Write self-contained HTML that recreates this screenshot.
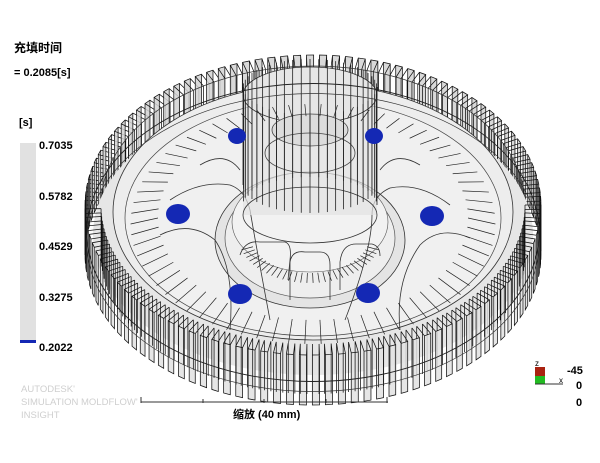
<!DOCTYPE html>
<html><head><meta charset="utf-8"><style>
body{margin:0;background:#fff;width:600px;height:463px;overflow:hidden;font-family:"Liberation Sans","Noto Sans CJK SC",sans-serif}
svg{position:absolute;left:0;top:0}
</style></head><body>
<svg id="s" width="600" height="463" viewBox="0 0 600 463" xmlns="http://www.w3.org/2000/svg">
<g id="back"></g>
<ellipse cx="313" cy="235" rx="220" ry="140" fill="#e6e6e6" stroke="none"/>
<ellipse cx="313" cy="212" rx="200" ry="128" fill="#ededed" stroke="#333" stroke-width="0.8"/>
<ellipse cx="313" cy="218" rx="188" ry="118" fill="#f0f0f0" stroke="#444" stroke-width="0.7"/>
<ellipse cx="310" cy="240" rx="95" ry="68" fill="#e4e4e4" stroke="#333" stroke-width="0.8"/>
<ellipse cx="310" cy="238" rx="85" ry="60" fill="#eeeeee" stroke="#555" stroke-width="0.7"/>
<ellipse cx="310" cy="222" rx="78" ry="50" fill="#f2f2f2" stroke="#555" stroke-width="0.6"/>
<g fill="none" stroke="#333" stroke-width="0.8">
<path d="M240 255 Q245 240 260 242 L285 242 Q292 244 290 260 L288 280"/>
<path d="M290 300 L290 262 Q292 250 305 252 L320 252 Q330 252 330 265 L330 300"/>
<path d="M340 290 L340 262 Q342 244 356 244 L372 244 Q380 246 380 256"/>
<path d="M170 200 Q200 180 230 185 Q245 190 250 210 Q255 240 270 320"/>
<path d="M450 205 Q420 182 390 188 Q372 196 372 215 Q372 250 345 320"/>
<path d="M160 235 Q190 220 215 240 Q235 270 230 330"/>
<path d="M470 238 Q440 225 420 245 Q395 280 400 330"/>
<path d="M200 165 Q225 150 240 170"/><path d="M420 165 Q395 150 380 170"/>
</g>
<rect x="243" y="95" width="134" height="120" fill="#e2e2e2" opacity="0.7"/>
<ellipse cx="310" cy="95" rx="67" ry="28" fill="#e6e6e6" stroke="#333" stroke-width="0.8"/>
<ellipse cx="310" cy="215" rx="67" ry="28" fill="none" stroke="#333" stroke-width="0.8"/>
<ellipse cx="310" cy="130" rx="38" ry="16" fill="#dcdcdc" stroke="#444" stroke-width="0.8"/>
<ellipse cx="310" cy="153" rx="45" ry="20" fill="none" stroke="#444" stroke-width="0.8"/>
<g id="hub" stroke="#222" stroke-width="0.8"></g>
<g id="ribs" stroke="#222" stroke-width="0.7" fill="none"></g>
<g fill="#1428b4">
<ellipse cx="178" cy="214" rx="12" ry="10"/><ellipse cx="432" cy="216" rx="12" ry="10"/>
<ellipse cx="240" cy="294" rx="12" ry="10"/><ellipse cx="368" cy="293" rx="12" ry="10"/>
<ellipse cx="237" cy="136" rx="9" ry="8"/><ellipse cx="374" cy="136" rx="9" ry="8"/>
</g>
<g id="front"></g>
<text x="14" y="52" font-size="12" font-weight="bold" fill="#000">充填时间</text>
<text x="14" y="76" font-size="11" font-weight="bold" fill="#000">= 0.2085[s]</text>
<text x="19" y="126" font-size="11" font-weight="bold" fill="#000">[s]</text>
<rect x="20" y="143" width="16" height="200" fill="#e1e1e1"/>
<rect x="20" y="340" width="16" height="3" fill="#1428b4"/>
<g font-size="11" font-weight="bold" fill="#000">
<text x="39" y="149">0.7035</text><text x="39" y="200">0.5782</text>
<text x="39" y="250">0.4529</text><text x="39" y="301">0.3275</text>
<text x="39" y="351">0.2022</text>
</g>
<g font-size="9.5" fill="#cfcfcf">
<text x="21" y="392">AUTODESK'</text><text x="21" y="405">SIMULATION MOLDFLOW'</text><text x="21" y="418">INSIGHT</text>
</g>
<g stroke="#333" stroke-width="1" fill="none">
<path d="M141 402 H388"/><path d="M141 397 V403 M203 399 V403 M264 399 V403 M326 399 V403 M387 397 V403"/>
</g>
<text x="233" y="418" font-size="11" font-weight="bold" fill="#000">缩放 (40 mm)</text>
<rect x="535" y="367" width="10" height="9" fill="#aa2211"/>
<rect x="535" y="376" width="10" height="8" fill="#22bb22"/>
<path d="M535 384 H563" stroke="#333"/>
<text x="535" y="366" font-size="8" fill="#000">z</text>
<text x="559" y="383" font-size="8" fill="#000">x</text>
<g font-size="11" font-weight="bold" fill="#000">
<text x="567" y="374">-45</text><text x="576" y="389">0</text><text x="576" y="406">0</text>
</g>
</svg>
<script>
var NS="http://www.w3.org/2000/svg";
function el(p,t,a){var e=document.createElementNS(NS,t);for(var k in a)e.setAttribute(k,a[k]);p.appendChild(e);return e;}
var cx=313,cy=205,rx=228,ry=150,H=50,N=110;
var back=document.getElementById('back'),front=document.getElementById('front');
function P(a,r1,r2,dy){return [cx+Math.cos(a)*r1,cy+Math.sin(a)*r2+dy];}
for(var i=0;i<N;i++){
 var a0=2*Math.PI*i/N,a1=a0+2*Math.PI*0.55/N;
 var o0=P(a0,rx,ry,0),o1=P(a1,rx,ry,0),i0=P(a0,rx-16,ry-11,0),i1=P(a1,rx-16,ry-11,0);
 var isFront=Math.sin((a0+a1)/2)>0;
 var g=isFront?front:back;
 var d="M"+i0+" L"+o0+" L"+o1+" L"+i1+" M"+o0+" L"+o0[0]+","+(o0[1]+H)+" L"+o1[0]+","+(o1[1]+H)+" L"+o1+" M"+i0+" L"+i0[0]+","+(i0[1]+H)+" M"+i1+" L"+i1[0]+","+(i1[1]+H);
 el(g,'path',{d:"M"+o0+" L"+o1+" L"+o1[0]+","+(o1[1]+H)+" L"+o0[0]+","+(o0[1]+H)+"Z",fill:isFront?"#e2e2e2":"#d2d2d2",stroke:"none",opacity:"0.85"});
 el(g,'path',{d:d,fill:"none",stroke:"#111","stroke-width":"0.75"});
}
el(front,'ellipse',{cx:cx,cy:cy+H*0.55,rx:rx-2,ry:ry-1,fill:"none",stroke:"#222","stroke-width":"0.9"});
el(front,'ellipse',{cx:cx,cy:cy+H*0.75,rx:rx-2,ry:ry-1,fill:"none",stroke:"#333","stroke-width":"0.7"});
el(back,'ellipse',{cx:cx,cy:cy,rx:rx-16,ry:ry-11,fill:"none",stroke:"#333","stroke-width":"0.7"});
var hub=document.getElementById('hub');
for(var j=0;j<48;j++){var a=2*Math.PI*j/48;var x=310+Math.cos(a)*67,y=95+Math.sin(a)*28;
 el(hub,'line',{x1:x,y1:y-8,x2:x,y2:y+(Math.sin(a)>0?90:110)});}
var ribs=document.getElementById('ribs');
for(var k=0;k<70;k++){var a=2*Math.PI*k/70;var r1=0.68,r2=0.8;
 el(ribs,'line',{x1:cx+Math.cos(a)*rx*r1,y1:218+Math.sin(a)*ry*r1,x2:cx+Math.cos(a)*rx*r2,y2:218+Math.sin(a)*ry*r2+6});}
for(var k=0;k<30;k++){var a=Math.PI*0.1+Math.PI*0.8*k/29;
 el(ribs,'line',{x1:310+Math.cos(a)*60,y1:235+Math.sin(a)*38,x2:310+Math.cos(a)*72,y2:235+Math.sin(a)*48});}
</script>
</body></html>
